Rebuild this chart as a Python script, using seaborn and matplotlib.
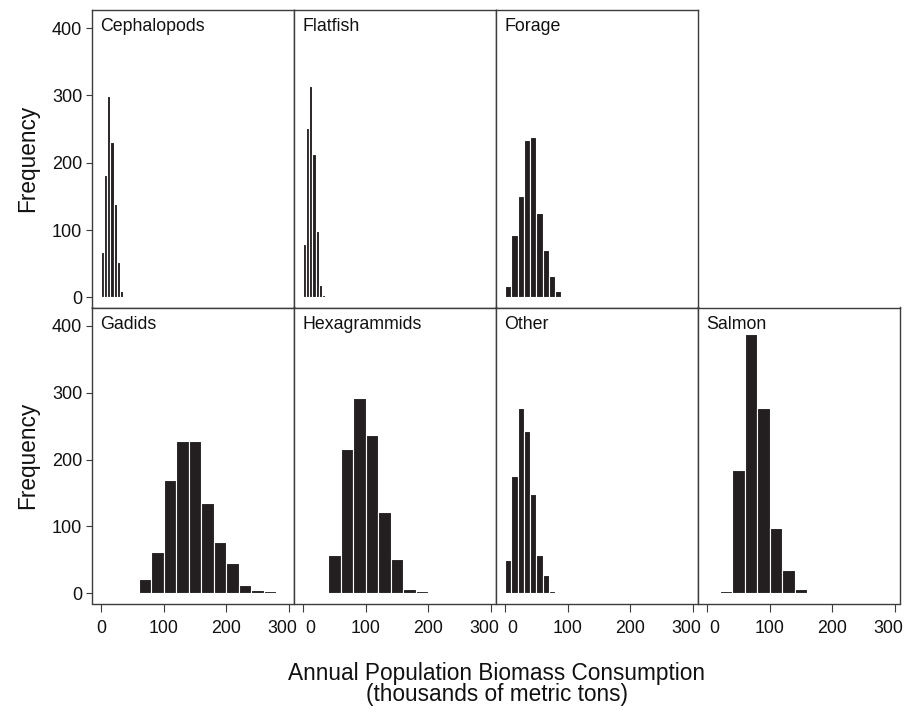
import numpy as np
import pandas as pd
import matplotlib
matplotlib.use("Agg")
import matplotlib.pyplot as plt
import matplotlib.transforms as mtransforms
import seaborn as sns

# Bootstrap frequency of annual population biomass consumption per prey group
groups = ["Cephalopods", "Flatfish", "Forage", "Gadids", "Hexagrammids", "Other", "Salmon"]

cephalopods_counts = [67, 182, 299, 231, 139, 52, 10]
flatfish_counts = [79, 251, 314, 213, 99, 19, 4]
forage_counts = [17, 92, 150, 234, 239, 126, 71, 32, 9, 1]
gadids_counts = [2, 21, 62, 170, 227, 227, 135, 77, 45, 12, 5, 3]
hexagrammids_counts = [58, 216, 292, 236, 122, 52, 7, 3, 2]
other_counts = [50, 176, 277, 242, 148, 58, 27, 4]
salmon_counts = [4, 184, 388, 277, 98, 35, 6, 1]

# lower edge of the first bin and bin width, thousands of metric tons
bin_starts = [0, 0, 0, 40, 40, 0, 20]
bin_widths = [5, 5, 10, 20, 20, 10, 20]

x_ticks = [0, 100, 200, 300]
y_ticks = [0, 100, 200, 300, 400]

counts = [cephalopods_counts, flatfish_counts, forage_counts, gadids_counts,
          hexagrammids_counts, other_counts, salmon_counts]

rows = []
for g, c, s, w in zip(groups, counts, bin_starts, bin_widths):
    for i, n in enumerate(c):
        rows.append({"group": g, "consumption": s + w * (i + 0.5), "count": n})
df = pd.DataFrame(rows)

sns.set_theme(style="ticks")
plt.rcParams["font.family"] = ["Liberation Sans", "DejaVu Sans"]

W, H = 908, 713
fig = plt.figure(figsize=(W / 100, H / 100), dpi=100)

col_left = [92, 294, 496, 698]
col_w = 202
row_top = [10, 307.5]
row_h = [297.5, 296]

layout = [(0, 0), (0, 1), (0, 2), (1, 0), (1, 1), (1, 2), (1, 3)]
bar_color = "#231f20"
frame_color = "#3c3c3c"
text_color = "#111111"


def nudge(label, px):
    """Shift a tick label sideways by a number of pixels."""
    off = mtransforms.ScaledTranslation(px / 100, 0, fig.dpi_scale_trans)
    label.set_transform(label.get_transform() + off)


for g, s, w, (r, c) in zip(groups, bin_starts, bin_widths, layout):
    ax = fig.add_axes([col_left[c] / W, 1 - (row_top[r] + row_h[r]) / H,
                       col_w / W, row_h[r] / H])
    sub = df[df["group"] == g]
    n_bins = len(sub)
    sns.histplot(data=sub, x="consumption", weights="count",
                 binwidth=w, binrange=(s, s + w * n_bins),
                 ax=ax, color=bar_color, edgecolor="white", linewidth=0.8,
                 alpha=1)
    ax.set_xlim(-14.4, 308)
    ax.set_ylim(-15, 427)
    ax.set_xlabel("")
    ax.set_ylabel("")
    ax.set_xticks(x_ticks)
    ax.set_yticks(y_ticks)
    for sp in ax.spines.values():
        sp.set_visible(True)
        sp.set_color(frame_color)
        sp.set_linewidth(1.0)
    ax.tick_params(axis="y", length=4, width=0.8, pad=3, labelsize=13,
                   color=frame_color, labelcolor=text_color)
    ax.tick_params(axis="x", length=6, width=0.8, pad=6, labelsize=12.8,
                   color=frame_color, labelcolor=text_color)
    if c != 0:
        ax.tick_params(axis="y", left=False, labelleft=False)
    if r == 0:
        ax.tick_params(axis="x", bottom=False, labelbottom=False)
    else:
        labels = ax.get_xticklabels()
        if c != 0:
            nudge(labels[0], 7)
        nudge(labels[-1], -7)
    ax.annotate(g, xy=(0, 1), xycoords="axes fraction",
                xytext=(6.2, -15.4), textcoords="offset points",
                ha="left", va="baseline", fontsize=12.8, color=text_color)

# shared axis titles
for r in range(2):
    yc = 1 - (row_top[r] + row_h[r] / 2) / H
    fig.text(28 / W, yc, "Frequency", rotation=90, ha="center", va="center",
             fontsize=16.3, color=text_color)

xc = 496.5 / W
fig.text(xc, 1 - 680 / H, "Annual Population Biomass Consumption",
         ha="center", va="baseline", fontsize=16.3, color=text_color)
fig.text(xc, 1 - 701 / H, "(thousands of metric tons)",
         ha="center", va="baseline", fontsize=16.3, color=text_color)

fig.savefig("out.png", dpi=100, facecolor="white")
